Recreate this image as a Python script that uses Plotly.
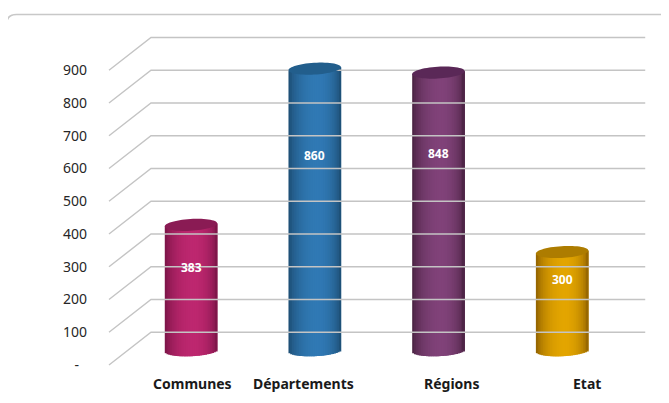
import numpy as np
import plotly.graph_objects as go

# ---------------- data ----------------
categories = ["Communes", "Départements", "Régions", "Etat"]
values = [383, 860, 848, 300]
tick_values = [0, 100, 200, 300, 400, 500, 600, 700, 800, 900]
tick_labels = ["-\u2007", "100", "200", "300", "400", "500", "600", "700", "800", "900"]

# ---------------- style / geometry ----------------
W, H = 669, 403
OFF = 8               # default page body margin
ML, MR, MT, MB = 100, 9, 20, 30
X_RANGE = [-0.7357, 3.7914]
Y_RANGE = [-24.43, 1053.6]

DEPTH_X = 0.3395      # perspective depth (x units)
DEPTH_Y = 100         # perspective depth (value units)
BASE = 45             # cylinders stand at mid depth
HALF_W = 0.212        # cylinder half width
ELL = 18              # ellipse vertical semi-axis (value units)
TILT = 4.5            # ellipse tilt
X_FRONT = -0.663
X_RIGHT = 3.672
N_STRIPS = 30

dark_cols = ["#741343", "#1b496d", "#45203d", "#8a5c00"]
light_cols = ["#bd276f", "#3079b4", "#804279", "#e3a500"]
top_cols = ["#8a1b54", "#225e8c", "#5a2857", "#ad7c00"]
label_shift = [1, -11, 13, 25]
label_frac = [0.66, 0.69, 0.71, 0.72]
FONT = "Noto Sans"


def hex2rgb(h):
    h = h.lstrip("#")
    return np.array([int(h[i:i + 2], 16) for i in (0, 2, 4)], dtype=float)


def mix(c1, c2, f):
    c = hex2rgb(c1) * (1 - f) + hex2rgb(c2) * f
    c = np.clip(c, 0, 255)
    return "rgb(%d,%d,%d)" % tuple(c.round().astype(int))


def shade(s):
    peak = 0.55
    if s < peak:
        f = 1 - ((peak - s) / peak) ** 2
    else:
        f = 1 - ((s - peak) / (1 - peak)) ** 2
    return max(f, 0) ** 0.7


fig = go.Figure()

# perspective gridlines
gx, gy = [], []
for v in tick_values:
    gx += [X_FRONT, X_FRONT + DEPTH_X, X_RIGHT, None]
    gy += [v, v + DEPTH_Y, v + DEPTH_Y, None]
fig.add_trace(go.Scatter(x=gx, y=gy, mode="lines",
                         line=dict(color="#c4c4c4", width=1.4),
                         hoverinfo="skip", showlegend=False))

idx = list(range(len(categories)))
ws = 2 * HALF_W / N_STRIPS

# cylinder bodies as shaded vertical strips
for k in range(N_STRIPS):
    s0 = k / N_STRIPS
    sc = (k + 0.5) / N_STRIPS
    u = 2 * sc - 1
    bottoms = [BASE - ELL * np.sqrt(max(1 - u * u, 0)) + TILT * u for _ in values]
    tops = [v + BASE + TILT * u for v in values]
    cols = [mix(dark_cols[i], light_cols[i], shade(sc)) for i in idx]
    width = ws * (2.2 if k < N_STRIPS - 1 else 1.0)
    fig.add_trace(go.Bar(
        x=idx, y=[t - b for t, b in zip(tops, bottoms)], base=bottoms,
        width=[width] * len(idx), offset=[-HALF_W + s0 * 2 * HALF_W] * len(idx),
        marker=dict(color=cols, line=dict(width=0)),
        hoverinfo="skip", showlegend=False))

shapes = []
# top ellipses
t = np.linspace(0, 2 * np.pi, 60)
for i, v in enumerate(values):
    xs = i + HALF_W * np.cos(t)
    ys = v + BASE + ELL * np.sin(t) + TILT * np.cos(t)
    path = "M " + " L ".join("%.4f,%.3f" % (a, b) for a, b in zip(xs, ys)) + " Z"
    shapes.append(dict(type="path", path=path, xref="x", yref="y",
                       fillcolor=top_cols[i], line=dict(width=0), layer="above"))

# rounded chart frame (screen pixel -> paper)
PW, PH = W - ML - MR, H - MT - MB


def px2p(x, y):
    return (x - ML) / PW, (H - MB - y) / PH


x0, y0, x1, y1, r = 6.5, 14.5, 673, 411, 10
pts = [("M", [(x0, y0 + r)]), ("Q", [(x0, y0), (x0 + r, y0)]), ("L", [(x1 - r, y0)]),
       ("Q", [(x1, y0), (x1, y0 + r)]), ("L", [(x1, y1 - r)]), ("Q", [(x1, y1), (x1 - r, y1)]),
       ("L", [(x0 + r, y1)]), ("Q", [(x0, y1), (x0, y1 - r)])]
path = ""
for cmd, ps in pts:
    path += cmd + " " + " ".join("%.5f,%.5f" % px2p(a, b) for a, b in ps) + " "
path += "Z"
shapes.append(dict(type="path", path=path, xref="paper", yref="paper",
                   line=dict(color="#c8c8c8", width=1.6), fillcolor="rgba(0,0,0,0)",
                   layer="below"))

annotations = []
for i, v in enumerate(values):
    annotations.append(dict(x=i, y=BASE + label_frac[i] * v, xref="x", yref="y",
                            text="<b>%d</b>" % v, showarrow=False,
                            font=dict(family=FONT, size=12, color="white")))
    annotations.append(dict(x=i, y=0, xref="x", yref="y", text="<b>%s</b>" % categories[i],
                            showarrow=False, yshift=-18, xshift=label_shift[i],
                            font=dict(family=FONT, size=14, color="#1a1a1a")))

fig.update_layout(
    width=W - OFF, height=H - OFF,
    margin=dict(l=ML - OFF, r=MR, t=MT - OFF, b=MB),
    paper_bgcolor="white", plot_bgcolor="white",
    barmode="overlay", showlegend=False,
    shapes=shapes, annotations=annotations,
    xaxis=dict(range=X_RANGE, visible=False, fixedrange=True),
    yaxis=dict(range=Y_RANGE, tickvals=tick_values, ticktext=tick_labels,
               showgrid=False, zeroline=False, showline=False, ticks="",
               ticklabelstandoff=12,
               tickfont=dict(family=FONT, size=14, color="#262626"), fixedrange=True),
)

fig.write_html("out.html")
